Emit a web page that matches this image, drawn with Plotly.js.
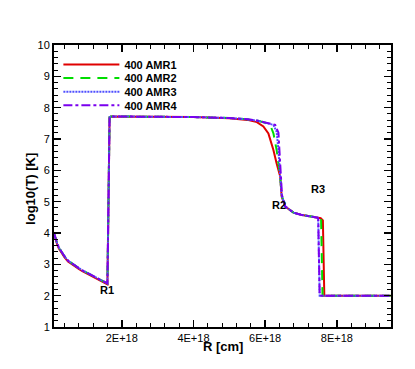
<!DOCTYPE html>
<html>
<head>
    <meta charset="utf-8">
    <title>log10(T) vs R</title>
    <script src="https://cdn.plot.ly/plotly-3.0.1.min.js"></script>
    <style>
        body { margin: 0; background: #fff; }
        #chart { width: 415px; height: 369px; }
    </style>
</head>
<body>
    <div id="chart"></div>
    <script>
        // R values in units of 1E+18 cm
        const seriesNames = ["400 AMR1", "400 AMR2", "400 AMR3", "400 AMR4"];

        const xLeft = [0.11, 0.15, 0.2, 0.25, 0.3, 0.4, 0.5, 0.6, 0.7, 0.8, 0.9, 1.0, 1.1, 1.2, 1.3, 1.4, 1.5, 1.6];
        const yLeft = [4.0, 3.82, 3.66, 3.53, 3.43, 3.26, 3.12, 3.03, 2.95, 2.88, 2.81, 2.75, 2.68, 2.62, 2.56, 2.50, 2.44, 2.39];
        const yLeftAmr1 = [3.98, 3.79, 3.63, 3.50, 3.40, 3.23, 3.09, 3.0, 2.92, 2.85, 2.78, 2.72, 2.65, 2.59, 2.53, 2.47, 2.41, 2.36];

        const xAmr1 = [1.63, 1.66, 1.7, 2.0, 3.0, 4.0, 5.0, 5.5, 5.77, 5.95, 6.09, 6.23, 6.32, 6.42, 6.46, 6.56, 6.79, 7.0, 7.2, 7.4, 7.55, 7.61, 7.63, 7.65, 9.5];
        const yAmr1 = [5.0, 7.69, 7.72, 7.72, 7.71, 7.70, 7.66, 7.61, 7.54, 7.40, 7.18, 6.65, 6.22, 5.80, 5.16, 4.84, 4.65, 4.58, 4.54, 4.51, 4.47, 4.4, 3.2, 2.0, 2.0];

        const xAmr2 = [1.63, 1.66, 1.7, 2.0, 3.0, 4.0, 5.0, 5.5, 5.8, 6.0, 6.15, 6.23, 6.32, 6.38, 6.42, 6.46, 6.56, 6.79, 7.0, 7.2, 7.4, 7.5, 7.56, 7.58, 7.6, 9.5];
        const yAmr2 = [5.0, 7.70, 7.72, 7.72, 7.71, 7.70, 7.67, 7.63, 7.58, 7.52, 7.42, 7.18, 6.65, 6.2, 5.80, 5.2, 4.85, 4.65, 4.58, 4.54, 4.51, 4.49, 4.45, 3.2, 2.0, 2.0];

        const xAmr3 = [1.63, 1.66, 1.7, 2.0, 3.0, 4.0, 5.0, 5.5, 5.8, 6.0, 6.15, 6.23, 6.32, 6.37, 6.42, 6.46, 6.56, 6.79, 7.0, 7.2, 7.4, 7.46, 7.48, 7.5, 7.52, 9.5];
        const yAmr3 = [5.0, 7.70, 7.72, 7.72, 7.71, 7.70, 7.67, 7.63, 7.58, 7.53, 7.49, 7.45, 7.23, 6.65, 5.80, 5.2, 4.85, 4.65, 4.58, 4.54, 4.51, 4.49, 4.45, 3.2, 2.0, 2.0];

        const xAmr4 = [1.63, 1.66, 1.7, 2.0, 3.0, 4.0, 5.0, 5.5, 5.8, 6.0, 6.15, 6.28, 6.37, 6.4, 6.43, 6.47, 6.56, 6.79, 7.0, 7.2, 7.4, 7.46, 7.48, 7.5, 7.52, 9.5];
        const yAmr4 = [5.0, 7.70, 7.72, 7.72, 7.71, 7.70, 7.67, 7.63, 7.58, 7.53, 7.50, 7.45, 7.2, 6.5, 5.80, 5.2, 4.85, 4.65, 4.58, 4.54, 4.51, 4.49, 4.45, 3.2, 2.0, 2.0];

        const xTickVals = [2, 4, 6, 8];
        const xTickText = ["2E+18", "4E+18", "6E+18", "8E+18"];

        const labelText = ["R1", "R2", "R3"];
        const labelX = [1.6, 6.39, 7.48];
        const labelY = [2.18, 4.89, 5.4];

        const e18 = v => v.map(r => r * 1e18);

        const styles = [
            { color: "#e00000", dash: "solid" },
            { color: "#00dd00", dash: "10px,7px" },
            { color: "#4f4fff", dash: "2px,1px" },
            { color: "#7a00ee", dash: "9px,3px,3px,3px" }
        ];
        const xs = [xAmr1, xAmr2, xAmr3, xAmr4];
        const ys = [yAmr1, yAmr2, yAmr3, yAmr4];
        const legendIds = ["legend", "legend2", "legend3", "legend4"];

        const traces = seriesNames.map((name, i) => ({
            x: e18(xLeft.concat(xs[i])),
            y: (i === 0 ? yLeftAmr1 : yLeft).concat(ys[i]),
            type: "scatter",
            mode: "lines",
            name: name,
            legend: legendIds[i],
            line: { color: styles[i].color, dash: styles[i].dash, width: 2 }
        }));

        const bold = { family: "Liberation Sans, Arial, sans-serif", color: "#000", weight: "bold" };

        const annotations = labelText.map((t, i) => ({
            x: labelX[i] * 1e18,
            y: labelY[i],
            text: t,
            showarrow: false,
            font: Object.assign({ size: 11 }, bold)
        }));
        // axis titles placed by hand so they sit as close to the ticks as in the original
        annotations.push({
            xref: "paper", yref: "paper", x: 0.5, y: -0.069,
            xanchor: "center", yanchor: "middle",
            text: "R [cm]", showarrow: false,
            font: Object.assign({ size: 13 }, bold)
        });
        annotations.push({
            xref: "paper", yref: "paper", x: -0.068, y: 0.49,
            xanchor: "center", yanchor: "middle", textangle: -90,
            text: "log10(T) [K]", showarrow: false,
            font: Object.assign({ size: 13 }, bold)
        });

        const legendBox = (row) => ({
            x: 0.013, y: (327 - (64.5 + 13.6 * row)) / 282,
            xanchor: "left", yanchor: "middle",
            bgcolor: "rgba(0,0,0,0)",
            itemwidth: 56,
            font: { size: 11, weight: "bold" }
        });

        const layout = {
            width: 415,
            height: 369,
            margin: { l: 54, r: 24, t: 45, b: 42 },
            paper_bgcolor: "#fff",
            plot_bgcolor: "#fff",
            font: { family: "Liberation Sans, Arial, sans-serif", size: 11, color: "#000" },
            showlegend: true,
            legend: legendBox(0),
            legend2: legendBox(1),
            legend3: legendBox(2),
            legend4: legendBox(3),
            xaxis: {
                range: [1.1e17, 9.51e18],
                tickvals: e18(xTickVals),
                ticktext: xTickText,
                ticks: "inside", ticklen: 7, tickwidth: 1.5, tickcolor: "#000",
                minor: { dtick: 4e17, tick0: 0, ticks: "inside", ticklen: 4, tickcolor: "#000", tickwidth: 1 },
                showline: true, linecolor: "#000", linewidth: 2, mirror: "allticks",
                showgrid: false, zeroline: false
            },
            yaxis: {
                range: [1, 10],
                dtick: 1, tick0: 0,
                ticks: "inside", ticklen: 7, tickwidth: 1.5, tickcolor: "#000",
                minor: { dtick: 0.2, tick0: 0, ticks: "inside", ticklen: 4, tickcolor: "#000", tickwidth: 1 },
                showline: true, linecolor: "#000", linewidth: 2, mirror: "allticks",
                showgrid: false, zeroline: false
            },
            annotations: annotations
        };

        Plotly.newPlot("chart", traces, layout, { displayModeBar: false, staticPlot: true });
    </script>
</body>
</html>
